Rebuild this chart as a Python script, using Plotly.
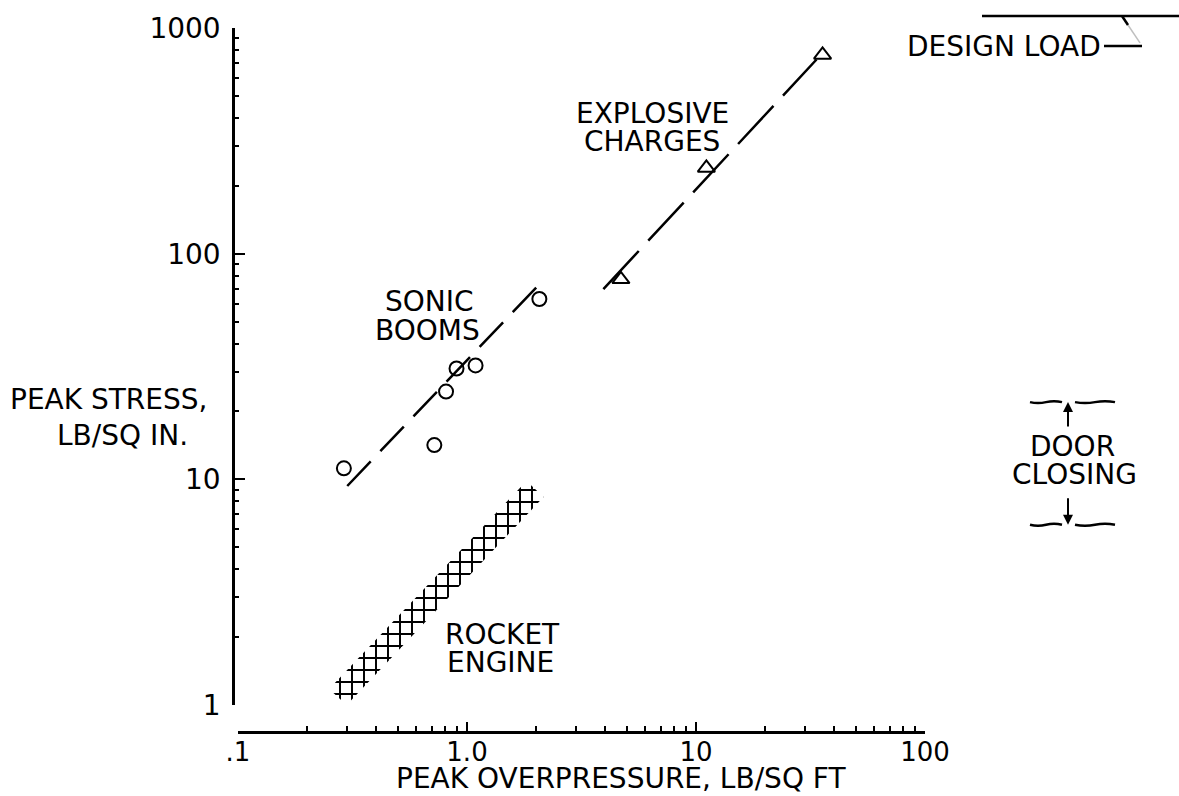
import math
import plotly.graph_objects as go

# ---- data ----------------------------------------------------------------
sonic_x = [0.29, 0.72, 0.81, 0.90, 1.09, 2.07]
sonic_y = [11.2, 14.2, 24.5, 31.0, 32.0, 63.0]
sonic_fit_x = [0.30, 2.01]
sonic_fit_y = [9.35, 71.0]

explosive_x = [4.7, 11.1, 35.7]
explosive_y = [77.0, 240.0, 760.0]
explosive_fit_x = [3.94, 33.6]
explosive_fit_y = [69.7, 725.0]

# rocket engine band (corners of the hatched region)
rocket_x = [0.250, 0.298, 2.16, 1.82, 0.250]
rocket_y = [1.18, 1.00, 8.35, 9.85, 1.18]

door_closing_range = [6.3, 22.0]   # lb/sq in.

x_tickvals = [0.1, 1, 10, 100]
x_ticktext = [".1", "1.0", "10", "100"]
y_tickvals = [1, 10, 100, 1000]
y_ticktext = ["1", "10", "100", "1000"]

# ---- page geometry (pixels) ---------------------------------------------
W, H = 1179, 796
L, R, T, B = 233, 925, 25, 732
X0_PX, Y0_PX = 238, 705          # where x=0.1 and y=1 sit
xdom0 = (X0_PX - L) / (R - L)
ydom0 = (B - Y0_PX) / (B - T)


def px(X):
    return (X - L) / (R - L)


def py(Y):
    return (B - Y) / (B - T)


def y_data_to_paper(v):
    return ydom0 + (1 - ydom0) * math.log10(v) / 3.0


FONT = "DejaVu Sans"
INK = "black"

fig = go.Figure()

# sonic booms
fig.add_trace(go.Scatter(x=sonic_fit_x, y=sonic_fit_y, mode="lines",
                         line=dict(color=INK, width=2.5, dash="34px,14px"),
                         hoverinfo="skip"))
fig.add_trace(go.Scatter(x=sonic_x, y=sonic_y, mode="markers",
                         marker=dict(symbol="circle-open", size=14, color=INK,
                                     line=dict(width=2, color=INK))))

# explosive charges
fig.add_trace(go.Scatter(x=explosive_fit_x, y=explosive_fit_y, mode="lines",
                         line=dict(color=INK, width=2.5, dash="52px,14px"),
                         hoverinfo="skip"))
fig.add_trace(go.Scatter(x=explosive_x, y=explosive_y, mode="markers",
                         marker=dict(symbol="triangle-up-open", size=15, color=INK,
                                     line=dict(width=2, color=INK))))

# rocket engine hatched band
fig.add_trace(go.Scatter(x=rocket_x, y=rocket_y, mode="lines", fill="toself",
                         line=dict(width=0, color="rgba(0,0,0,0)"),
                         fillcolor="white",
                         fillpattern=dict(shape="+", fgcolor=INK, fgopacity=1,
                                          bgcolor="white", size=12, solidity=0.3),
                         hoverinfo="skip"))

fig.update_layout(
    width=W, height=H,
    margin=dict(l=L, r=W - R, t=T, b=H - B),
    paper_bgcolor="white", plot_bgcolor="white",
    showlegend=False,
    xaxis=dict(type="log", range=[-1, 2], domain=[xdom0, 1],
               anchor="free", position=0,
               showline=True, linecolor=INK, linewidth=2.5,
               ticks="inside", ticklen=9, tickwidth=2, tickcolor=INK,
               tickvals=x_tickvals, ticktext=x_ticktext,
               tickfont=dict(family=FONT, size=26, color=INK),
               ticklabelstandoff=-4,
               showgrid=False, zeroline=False,
               minor=dict(ticks="inside", ticklen=5, tickwidth=2, tickcolor=INK,
                          tickvals=[m * 10 ** e for e in (-1, 0, 1) for m in range(2, 10)],
                          showgrid=False)),
    yaxis=dict(type="log", range=[0, 3], domain=[ydom0, 1],
               anchor="free", position=0,
               showline=True, linecolor=INK, linewidth=2.5,
               ticks="inside", ticklen=10, tickwidth=2, tickcolor=INK,
               tickvals=y_tickvals, ticktext=y_ticktext,
               tickfont=dict(family=FONT, size=28, color=INK),
               ticklabelstandoff=6,
               showgrid=False, zeroline=False,
               minor=dict(ticks="inside", ticklen=4, tickwidth=2, tickcolor=INK,
                          tickvals=[m * 10 ** e for e in (0, 1, 2) for m in range(2, 10)],
                          showgrid=False)),
)


def label(text, X, Y, size=28):
    fig.add_annotation(x=px(X), y=py(Y), xref="paper", yref="paper",
                       text=text, showarrow=False, xanchor="center",
                       yanchor="middle", align="center",
                       font=dict(family=FONT, size=size, color=INK))


label("PEAK OVERPRESSURE, LB/SQ FT", 621, 779, size=28)
label("PEAK STRESS,", 108, 398)
label("LB/SQ IN.", 122, 434)
label("SONIC", 429, 300)
label("BOOMS", 427, 329)
label("EXPLOSIVE", 652, 111)
label("CHARGES", 652, 139)
label("ROCKET", 502, 634)
label("ENGINE", 500, 662)
label("DOOR", 1072, 445)
label("CLOSING", 1074, 473)
label("DESIGN LOAD", 1004, 44)

line_style = dict(color=INK, width=2.5)

# design load marker
fig.add_shape(type="line", xref="paper", yref="paper",
              x0=px(982), x1=px(1179), y0=py(13), y1=py(13), line=line_style)
fig.add_shape(type="line", xref="paper", yref="paper",
              x0=px(1104), x1=px(1142), y0=py(43), y1=py(43), line=line_style)
fig.add_shape(type="line", xref="paper", yref="paper",
              x0=px(1122), x1=px(1128), y0=py(13), y1=py(22),
              line=dict(color=INK, width=2.5))
fig.add_shape(type="line", xref="paper", yref="paper",
              x0=px(1128), x1=px(1140), y0=py(22), y1=py(40),
              line=dict(color="rgba(0,0,0,0.25)", width=1.5))

# door closing range bracket
lo_y = y_data_to_paper(door_closing_range[0])
hi_y = y_data_to_paper(door_closing_range[1])
ax_x = px(1068)


def wave(xa, xb, yp):
    xm = (xa + xb) / 2
    d = 2.0 / (B - T)
    path = (f"M {xa},{yp} Q {(xa + xm) / 2},{yp - d} {xm},{yp} "
            f"T {xb},{yp}")
    fig.add_shape(type="path", xref="paper", yref="paper", path=path,
                  line=dict(color=INK, width=2.5))


for yp in (hi_y, lo_y):
    wave(px(1030), px(1062), yp)
    wave(px(1075), px(1115), yp)

fig.add_annotation(x=ax_x, y=hi_y, ax=0, ay=26,
                   xref="paper", yref="paper", axref="pixel", ayref="pixel",
                   showarrow=True, arrowhead=2, arrowsize=1, arrowwidth=2,
                   arrowcolor=INK, text="")
fig.add_annotation(x=ax_x, y=lo_y, ax=0, ay=-28,
                   xref="paper", yref="paper", axref="pixel", ayref="pixel",
                   showarrow=True, arrowhead=2, arrowsize=1, arrowwidth=2,
                   arrowcolor=INK, text="")

fig.write_html("out.html")
